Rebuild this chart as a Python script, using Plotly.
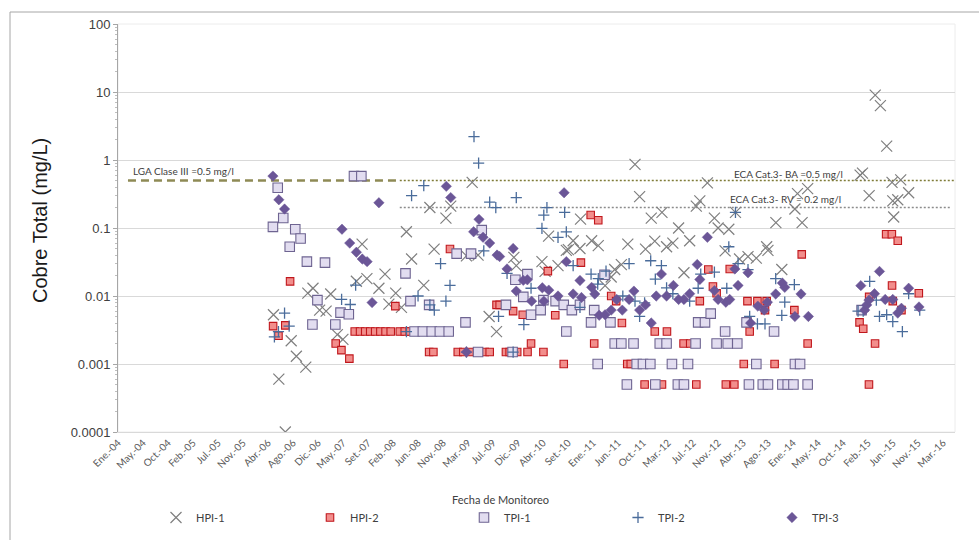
import pandas as pd
import plotly.graph_objects as go

# ---------------- data: total copper by monitoring point (mg/L) ----------------
hpi1_dates = ["2006-04-22", "2006-05-21", "2006-06-25", "2006-07-27", "2006-08-24", "2006-10-14", "2006-10-25",
              "2006-11-22", "2006-12-28", "2007-02-01", "2007-02-26", "2007-04-03", "2007-05-03", "2007-07-15",
              "2007-08-15", "2007-09-10", "2007-11-14", "2007-12-17", "2008-01-07", "2008-02-13", "2008-03-15",
              "2008-04-11", "2008-05-09", "2008-07-14", "2008-08-16", "2008-09-08", "2008-11-11", "2008-12-07",
              "2009-03-02", "2009-04-02", "2009-05-04", "2009-07-03", "2009-08-12", "2009-11-14", "2009-11-27",
              "2010-04-15", "2010-05-02", "2010-05-21", "2010-07-11", "2010-08-25", "2010-09-05", "2010-10-01",
              "2010-11-07", "2010-11-10", "2011-01-09", "2011-02-14", "2011-03-23", "2011-04-25", "2011-05-14",
              "2011-06-19", "2011-07-24", "2011-09-01", "2011-09-26", "2011-10-28", "2011-11-28", "2011-12-17",
              "2012-01-25", "2012-02-19", "2012-03-24", "2012-04-24", "2012-05-23", "2012-06-23", "2012-07-29",
              "2012-08-17", "2012-09-27", "2012-11-04", "2012-11-24", "2013-01-01", "2013-01-21", "2013-02-26",
              "2013-03-20", "2013-05-05", "2013-06-19", "2013-08-14", "2013-08-21", "2013-10-03", "2013-11-04",
              "2014-01-14", "2014-01-28", "2014-02-22", "2014-03-24", "2015-01-02", "2015-01-15", "2015-02-20",
              "2015-03-25", "2015-04-22", "2015-05-26", "2015-06-24", "2015-06-28", "2015-07-03", "2015-07-25",
              "2015-08-10", "2015-09-22"]
hpi1_values = [0.0053, 0.0006, 0.0001, 0.0022, 0.0013, 0.0009, 0.011,
               0.013, 0.0062, 0.006, 0.0107, 0.0027, 0.0023, 0.0165,
               0.058, 0.018, 0.013, 0.021, 0.0076, 0.011, 0.0068,
               0.088, 0.035, 0.0143, 0.2, 0.049, 0.14, 0.21,
               0.039, 0.47, 0.04, 0.005, 0.003, 0.037, 0.028,
               0.032, 0.023, 0.076, 0.028, 0.047, 0.048, 0.065,
               0.05, 0.135, 0.065, 0.055, 0.0142, 0.019, 0.0245,
               0.029, 0.058, 0.86, 0.29, 0.049, 0.14, 0.064,
               0.17, 0.053, 0.06, 0.1, 0.022, 0.065, 0.21,
               0.25, 0.46, 0.14, 0.1, 0.046, 0.096, 0.17,
               0.035, 0.038, 0.036, 0.053, 0.047, 0.12, 0.0245,
               0.19, 0.32, 0.12, 0.38, 0.6, 0.64, 0.3,
               9.0, 6.3, 1.6, 0.47, 0.25, 0.145, 0.26,
               0.51, 0.33]

hpi2_dates = ["2006-04-20", "2006-05-19", "2006-06-25", "2006-07-21", "2007-03-25", "2007-04-25", "2007-06-07",
              "2007-07-06", "2007-08-04", "2007-09-01", "2007-09-28", "2007-10-25", "2007-11-22", "2007-12-20",
              "2008-01-17", "2008-02-11", "2008-03-06", "2008-04-02", "2008-04-29", "2008-08-12", "2008-09-04",
              "2008-12-03", "2009-01-14", "2009-02-13", "2009-03-19", "2009-06-09", "2009-07-06", "2009-08-12",
              "2009-08-29", "2009-10-02", "2009-10-22", "2009-11-10", "2009-12-02", "2010-01-01", "2010-01-27",
              "2010-02-15", "2010-04-23", "2010-05-17", "2010-06-26", "2010-08-11", "2010-11-12", "2011-01-04",
              "2011-01-23", "2011-02-14", "2011-04-25", "2011-05-22", "2011-06-22", "2011-07-21", "2011-08-09",
              "2011-10-23", "2011-12-17", "2012-01-25", "2012-02-21", "2012-05-21", "2012-06-26", "2012-07-29",
              "2012-08-17", "2012-10-02", "2012-10-27", "2012-11-16", "2013-01-05", "2013-01-26", "2013-02-20",
              "2013-04-12", "2013-05-02", "2013-05-14", "2013-06-25", "2013-08-05", "2013-08-14", "2013-09-26",
              "2014-01-11", "2014-02-20", "2014-03-24", "2014-12-30", "2015-01-19", "2015-02-19", "2015-02-20",
              "2015-03-24", "2015-05-23", "2015-06-23", "2015-06-24", "2015-06-28", "2015-07-25", "2015-08-14",
              "2015-11-16"]
hpi2_values = [0.0036, 0.0026, 0.0037, 0.0164, 0.002, 0.0016, 0.0012,
               0.003, 0.003, 0.003, 0.003, 0.003, 0.003, 0.003,
               0.003, 0.0071, 0.003, 0.003, 0.003, 0.0015, 0.0015,
               0.049, 0.0015, 0.0015, 0.0015, 0.0015, 0.0015, 0.0074,
               0.0074, 0.0015, 0.0015, 0.006, 0.0015, 0.0053, 0.0015,
               0.002, 0.0015, 0.0232, 0.0052, 0.001, 0.031, 0.155,
               0.002, 0.13, 0.01, 0.0084, 0.004, 0.001, 0.001,
               0.0005, 0.003, 0.0005, 0.003, 0.002, 0.002, 0.0005,
               0.0084, 0.0245, 0.0138, 0.011, 0.0005, 0.025, 0.0005,
               0.001, 0.0084, 0.003, 0.0084, 0.0062, 0.0084, 0.001,
               0.0062, 0.041, 0.002, 0.0041, 0.0033, 0.0005, 0.0097,
               0.002, 0.081, 0.081, 0.0143, 0.0084, 0.065, 0.0062,
               0.011]

tpi1_dates = ["2006-04-19", "2006-05-15", "2006-06-14", "2006-07-19", "2006-08-18", "2006-09-16", "2006-10-20",
              "2006-11-19", "2006-12-16", "2007-01-26", "2007-03-23", "2007-04-20", "2007-06-04", "2007-07-02",
              "2007-08-11", "2008-04-06", "2008-05-03", "2008-05-25", "2008-07-09", "2008-08-12", "2008-08-26",
              "2008-10-09", "2008-11-26", "2009-01-08", "2009-02-25", "2009-03-27", "2009-05-04", "2009-05-24",
              "2009-10-02", "2009-11-07", "2009-11-22", "2010-01-04", "2010-01-26", "2010-02-15", "2010-04-08",
              "2010-04-23", "2010-06-28", "2010-08-11", "2010-08-25", "2010-09-24", "2010-11-07", "2011-01-06",
              "2011-01-23", "2011-02-11", "2011-03-20", "2011-04-21", "2011-05-14", "2011-06-19", "2011-07-19",
              "2011-08-24", "2011-09-10", "2011-10-14", "2011-11-23", "2011-12-20", "2012-01-13", "2012-02-19",
              "2012-03-19", "2012-04-20", "2012-05-23", "2012-06-14", "2012-07-25", "2012-08-08", "2012-09-14",
              "2012-10-15", "2012-11-16", "2013-01-01", "2013-01-15", "2013-03-08", "2013-04-27", "2013-05-10",
              "2013-06-19", "2013-07-24", "2013-08-21", "2013-09-23", "2013-11-07", "2013-12-06", "2014-01-06",
              "2014-01-14", "2014-02-11", "2014-03-24", "2015-01-10"]
tpi1_values = [0.104, 0.39, 0.14, 0.053, 0.096, 0.07, 0.032,
               0.0038, 0.0087, 0.031, 0.0038, 0.0057, 0.0054, 0.58,
               0.58, 0.0215, 0.0084, 0.003, 0.003, 0.0074, 0.003,
               0.003, 0.003, 0.042, 0.0041, 0.042, 0.0015, 0.093,
               0.0074, 0.0015, 0.0173, 0.0097, 0.021, 0.0053, 0.0062,
               0.0087, 0.0084, 0.0074, 0.003, 0.0062, 0.0074, 0.0041,
               0.0062, 0.001, 0.0205, 0.0041, 0.002, 0.002, 0.0005,
               0.002, 0.001, 0.001, 0.001, 0.0005, 0.002, 0.002,
               0.001, 0.0005, 0.0005, 0.001, 0.002, 0.0041, 0.0041,
               0.0055, 0.002, 0.003, 0.002, 0.002, 0.0041, 0.0005,
               0.001, 0.0005, 0.0005, 0.003, 0.0005, 0.0005, 0.0005,
               0.001, 0.001, 0.0005, 0.0062]

tpi2_dates = ["2006-04-27", "2006-05-19", "2006-06-21", "2006-07-16", "2007-04-26", "2007-06-12", "2007-07-11",
              "2008-04-11", "2008-05-09", "2008-06-13", "2008-07-14", "2008-08-16", "2008-09-09", "2008-10-13",
              "2008-11-11", "2008-12-03", "2009-03-02", "2009-04-12", "2009-05-07", "2009-06-04", "2009-07-06",
              "2009-08-08", "2009-08-23", "2009-10-08", "2009-11-10", "2009-11-27", "2010-01-07", "2010-02-15",
              "2010-04-15", "2010-04-25", "2010-05-12", "2010-07-11", "2010-08-16", "2010-08-25", "2010-10-01",
              "2010-11-07", "2011-01-06", "2011-02-11", "2011-02-14", "2011-03-28", "2011-06-27", "2011-07-31",
              "2011-09-01", "2011-09-26", "2011-10-23", "2011-11-25", "2011-12-20", "2012-01-22", "2012-02-19",
              "2012-03-24", "2012-06-23", "2012-08-08", "2012-08-22", "2012-11-04", "2013-01-10", "2013-01-21",
              "2013-02-26", "2013-03-12", "2013-05-05", "2013-05-14", "2013-06-25", "2013-08-05", "2013-10-02",
              "2013-11-04", "2013-11-20", "2014-01-11", "2014-12-22", "2015-01-19", "2015-02-23", "2015-03-31",
              "2015-04-17", "2015-05-26", "2015-06-28", "2015-08-19", "2015-09-22", "2015-11-21"]
tpi2_values = [0.0025, 0.003, 0.0056, 0.0036, 0.0089, 0.0075, 0.0145,
               0.003, 0.3, 0.01, 0.42, 0.0074, 0.0062, 0.03,
               0.0084, 0.0143, 0.0015, 2.2, 0.9, 0.046, 0.24,
               0.2, 0.005, 0.0215, 0.0015, 0.28, 0.0038, 0.013,
               0.099, 0.155, 0.2, 0.073, 0.17, 0.088, 0.028,
               0.0068, 0.021, 0.015, 0.018, 0.0232, 0.01, 0.03,
               0.0084, 0.005, 0.0079, 0.033, 0.0177, 0.028, 0.0132,
               0.0108, 0.0084, 0.013, 0.021, 0.0225, 0.013, 0.053,
               0.17, 0.03, 0.0245, 0.005, 0.0039, 0.0039, 0.018,
               0.0052, 0.0081, 0.0147, 0.006, 0.006, 0.0164, 0.0087,
               0.005, 0.0053, 0.0042, 0.003, 0.0108, 0.0062]

tpi3_dates = ["2006-04-19", "2006-05-21", "2006-06-21", "2007-04-28", "2007-06-09", "2007-07-15", "2007-08-16",
              "2007-09-11", "2007-10-08", "2007-11-14", "2008-11-13", "2008-12-07", "2009-03-02", "2009-04-10",
              "2009-05-09", "2009-05-31", "2009-07-06", "2009-08-15", "2009-08-29", "2009-10-08", "2009-11-10",
              "2009-11-27", "2010-01-04", "2010-01-26", "2010-02-18", "2010-04-17", "2010-04-25", "2010-05-22",
              "2010-07-11", "2010-08-13", "2010-08-25", "2010-10-01", "2010-11-07", "2010-11-15", "2011-01-09",
              "2011-01-26", "2011-02-19", "2011-03-23", "2011-04-25", "2011-05-25", "2011-06-24", "2011-07-31",
              "2011-08-26", "2011-09-26", "2011-10-28", "2011-11-28", "2011-12-25", "2012-01-22", "2012-02-19",
              "2012-03-27", "2012-04-24", "2012-05-23", "2012-06-23", "2012-08-03", "2012-08-17", "2012-09-27",
              "2012-11-04", "2012-11-24", "2013-01-05", "2013-01-26", "2013-02-23", "2013-03-12", "2013-05-05",
              "2013-05-19", "2013-06-27", "2013-08-01", "2013-08-18", "2013-10-02", "2013-11-07", "2013-11-20",
              "2014-01-14", "2014-02-16", "2014-03-28", "2015-01-06", "2015-01-27", "2015-02-07", "2015-02-19",
              "2015-03-21", "2015-04-17", "2015-05-18", "2015-06-28", "2015-07-25", "2015-08-14", "2015-09-22",
              "2015-11-17"]
tpi3_values = [0.58, 0.26, 0.19, 0.096, 0.06, 0.044, 0.035,
               0.032, 0.008, 0.235, 0.41, 0.28, 0.0015, 0.088,
               0.134, 0.073, 0.06, 0.04, 0.038, 0.025, 0.05,
               0.0118, 0.017, 0.0173, 0.0084, 0.0132, 0.0084, 0.0122,
               0.01, 0.33, 0.032, 0.0107, 0.0169, 0.0095, 0.0134,
               0.0107, 0.0052, 0.0053, 0.0062, 0.0089, 0.0062, 0.0089,
               0.0118, 0.0062, 0.0074, 0.004, 0.01, 0.021, 0.01,
               0.0143, 0.0089, 0.0089, 0.0108, 0.029, 0.0175, 0.073,
               0.012, 0.0089, 0.0081, 0.0089, 0.025, 0.0143, 0.022,
               0.004, 0.0071, 0.0062, 0.0081, 0.0107, 0.0155, 0.0134,
               0.005, 0.0107, 0.005, 0.0142, 0.0062, 0.0074, 0.0087,
               0.0108, 0.023, 0.0089, 0.0089, 0.0056, 0.0066, 0.013,
               0.0069]

# guideline limits (mg/L) and the periods they apply to
lga_dates = ["2004-02-24", "2008-03-06"]
lga_limit = 0.5
eca_ba_dates = ["2008-03-06", "2016-05-30"]
eca_ba_limit = 0.5
eca_rv_dates = ["2008-03-06", "2016-05-04"]
eca_rv_limit = 0.2

# date-axis labels, one every 135.4 days from Jan 2004
tick_labels = ["Ene.-04", "May.-04", "Oct.-04", "Feb.-05", "Jul.-05", "Nov.-05", "Abr.-06", "Ago.-06",
               "Dic.-06", "May.-07", "Set.-07", "Feb.-08", "Jun.-08", "Nov.-08", "Mar.-09", "Jul.-09",
               "Dic.-09", "Abr.-10", "Set.-10", "Ene.-11", "Jun.-11", "Oct.-11", "Mar.-12", "Jul.-12",
               "Nov.-12", "Abr.-13", "Ago.-13", "Ene.-14", "May.-14", "Oct.-14", "Feb.-15", "Jun.-15",
               "Nov.-15", "Mar.-16"]
tick_start = pd.Timestamp("2004-01-01")
tick_step_days = 135.4
x_range = ["2004-01-01", "2016-05-30"]

y_ticks = [0.0001, 0.001, 0.01, 0.1, 1, 10, 100]
y_tick_text = ["0.0001", "0.001", "0.01", "0.1", "1", "10", "100"]

# ---------------- figure ----------------
W, H = 979, 540
L, R, T, B = 118, 24, 24, 108
plot_w, plot_h = W - L - R, H - T - B


def px_x(px):
    return (px - L) / plot_w


def px_y(py):
    return (H - B - py) / plot_h


SANS = "Lato, 'Open Sans', sans-serif"
ARIAL = "'Liberation Sans', Arial, sans-serif"

fig = go.Figure()

# limit lines
fig.add_trace(go.Scatter(x=lga_dates, y=[lga_limit] * 2, mode="lines", showlegend=False, hoverinfo="skip",
                         line=dict(color="#8e8a55", width=2.4, dash="8px,5px")))
fig.add_trace(go.Scatter(x=eca_ba_dates, y=[eca_ba_limit] * 2, mode="lines", showlegend=False, hoverinfo="skip",
                         line=dict(color="#7f7c38", width=1.6, dash="2px,2px")))
fig.add_trace(go.Scatter(x=eca_rv_dates, y=[eca_rv_limit] * 2, mode="lines", showlegend=False, hoverinfo="skip",
                         line=dict(color="#8c8c8c", width=1.6, dash="2px,2px")))

series = [
    ("HPI-1", hpi1_dates, hpi1_values,
     dict(symbol="x-thin", size=11, color="#7f7f7f", line=dict(color="#7f7f7f", width=1.2))),
    ("HPI-2", hpi2_dates, hpi2_values,
     dict(symbol="square", size=7.5, color="#f28e8c", line=dict(color="#c0171c", width=1.1))),
    ("TPI-1", tpi1_dates, tpi1_values,
     dict(symbol="square", size=9.5, color="#e2ddf0", line=dict(color="#6e6491", width=1.1))),
    ("TPI-2", tpi2_dates, tpi2_values,
     dict(symbol="cross-thin", size=8, color="#4a6c9b", line=dict(color="#4a6c9b", width=1.3))),
    ("TPI-3", tpi3_dates, tpi3_values,
     dict(symbol="diamond", size=8, color="#6b5697", line=dict(color="#6b5697", width=0.5))),
]
for name, xs, ys, marker in series:
    fig.add_trace(go.Scatter(x=xs, y=ys, mode="markers", name=name, marker=marker))

tick_vals = [(tick_start + pd.Timedelta(days=tick_step_days * k)).strftime("%Y-%m-%d %H:%M")
             for k in range(len(tick_labels))]

fig.update_xaxes(
    type="date", range=x_range, tickmode="array", tickvals=tick_vals, ticktext=tick_labels,
    tickangle=-45, tickfont=dict(family=SANS, size=10, color="#595959"),
    showgrid=False, zeroline=False, showline=True, linecolor="#d9d9d9", linewidth=1, ticks="",
    automargin=False,
)
fig.update_yaxes(
    type="log", range=[-4, 2], tickmode="array", tickvals=y_ticks, ticktext=y_tick_text,
    tickfont=dict(family=ARIAL, size=13, color="#404040"),
    showgrid=True, gridcolor="#d9d9d9", gridwidth=1, zeroline=False,
    showline=True, linecolor="#a6a6a6", linewidth=1,
    ticks="outside", ticklen=4, tickcolor="#a6a6a6",
    minor=dict(ticks="outside", ticklen=2, tickcolor="#bfbfbf", dtick="D1", showgrid=False),
    automargin=False,
)

annotations = [
    dict(text="LGA Clase III =0.5 mg/l", x=px_x(131), y=px_y(171), xanchor="left", yanchor="middle",
         font=dict(family=SANS, size=10, color="#404040")),
    dict(text="ECA Cat.3- BA =0.5 mg/l", x=px_x(845), y=px_y(174), xanchor="right", yanchor="middle",
         font=dict(family=SANS, size=10, color="#404040")),
    dict(text="ECA Cat.3- RV = 0.2 mg/l", x=px_x(843), y=px_y(199), xanchor="right", yanchor="middle",
         font=dict(family=SANS, size=10, color="#404040")),
    dict(text="Fecha de Monitoreo", x=px_x(500), y=px_y(499), xanchor="center", yanchor="middle",
         font=dict(family=SANS, size=11, color="#404040")),
    dict(text="Cobre Total (mg/L)", x=px_x(40), y=px_y(221), xanchor="center", yanchor="middle",
         textangle=-90, font=dict(family=ARIAL, size=20, color="#1a1a1a")),
]
for a in annotations:
    a.update(xref="paper", yref="paper", showarrow=False)

shapes = [
    # outer chart frame
    dict(type="rect", xref="paper", yref="paper", x0=px_x(10), x1=px_x(995), y0=px_y(560), y1=px_y(12),
         line=dict(color="#a6a6a6", width=1), layer="below"),
    # plot-area frame
    dict(type="rect", xref="paper", yref="paper", x0=0, x1=1, y0=0, y1=1,
         line=dict(color="#ececec", width=1), layer="below"),
]

fig.update_layout(
    width=W, height=H, autosize=False,
    margin=dict(l=L, r=R, t=T, b=B, pad=0, autoexpand=False),
    paper_bgcolor="white", plot_bgcolor="white",
    showlegend=True,
    legend=dict(orientation="h", x=px_x(156), y=px_y(503), xanchor="left", yanchor="top",
                font=dict(family=SANS, size=11, color="#404040"),
                entrywidth=109, entrywidthmode="pixels", itemwidth=30,
                bgcolor="rgba(0,0,0,0)", tracegroupgap=0),
    annotations=annotations,
    shapes=shapes,
)

fig.write_html("out.html")
